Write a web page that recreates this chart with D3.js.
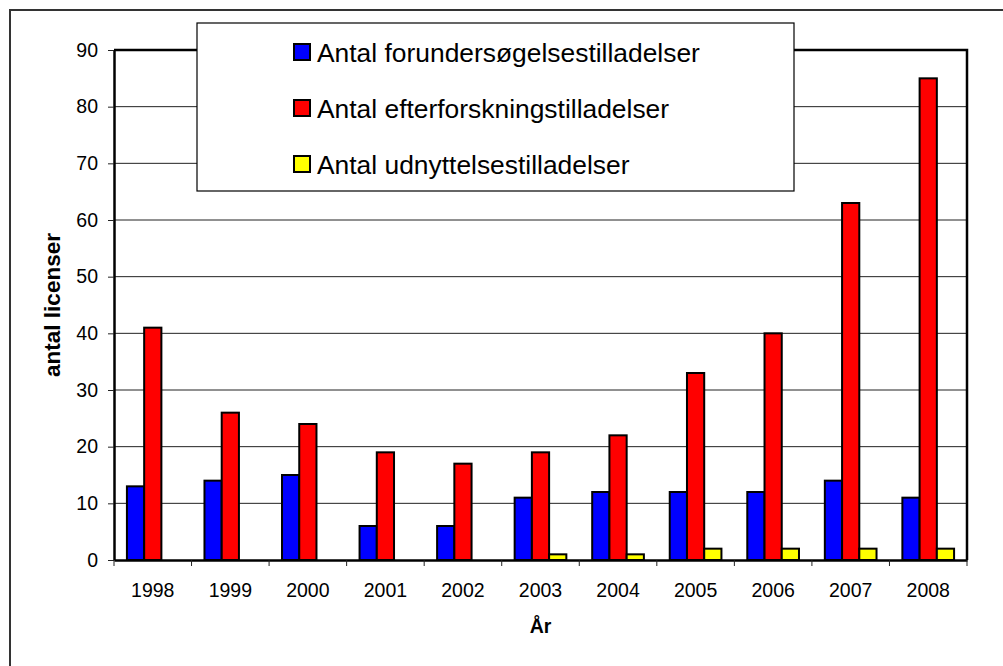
<!DOCTYPE html>
<html>
<head>
<meta charset="utf-8">
<script src="https://cdn.jsdelivr.net/npm/d3@7"></script>
<style>
  body { margin: 0; background: #fff; }
  svg { display: block; font-family: "Liberation Sans", Arial, sans-serif; }
</style>
</head>
<body>
<svg id="chart" width="1003" height="666"></svg>
<script>
// data
const years = ["1998","1999","2000","2001","2002","2003","2004","2005","2006","2007","2008"];
const forunders = [13, 14, 15, 6, 6, 11, 12, 12, 12, 14, 11];
const efterforsk = [41, 26, 24, 19, 17, 19, 22, 33, 40, 63, 85];
const udnyttelse = [0, 0, 0, 0, 0, 1, 1, 2, 2, 2, 2];
const seriesNames = ["Antal forundersøgelsestilladelser", "Antal efterforskningstilladelser", "Antal udnyttelsestilladelser"];
const seriesColors = ["#0000ff", "#ff0000", "#ffff00"];
const yTicks = [0, 10, 20, 30, 40, 50, 60, 70, 80, 90];

let chart = d3.select("#chart");
let plotLeft = 114, plotRight = 967, plotTop = 50, plotBottom = 560;

// outer frame (runs off the right / bottom of the picture)
chart.append("rect")
    .attr("x", 10).attr("y", 10)
    .attr("width", 1010).attr("height", 700)
    .attr("fill", "none")
    .attr("stroke", "#333")
    .attr("stroke-width", 2);

// scales
let x = d3.scaleBand()
    .domain(years)
    .range([plotLeft, plotRight])
    .padding(0);

let xInner = d3.scaleBand()
    .domain(d3.range(seriesNames.length))
    .range([x.bandwidth() / 6, x.bandwidth() * 5 / 6])
    .padding(0);

let y = d3.scaleLinear()
    .domain([0, 90])
    .range([plotBottom, plotTop]);

// grid lines
chart.append("g")
    .selectAll("line")
    .data(yTicks.filter(d => d > 0 && d < 90))
    .enter()
    .append("line")
    .attr("x1", plotLeft).attr("x2", plotRight)
    .attr("y1", d => y(d)).attr("y2", d => y(d))
    .attr("stroke", "#222")
    .attr("stroke-width", 1);

// plot top + right border
chart.append("path")
    .attr("d", "M" + plotLeft + "," + y(90) + "H" + plotRight + "V" + plotBottom)
    .attr("fill", "none")
    .attr("stroke", "#000")
    .attr("stroke-width", 2.5);

// bars
let seriesData = [forunders, efterforsk, udnyttelse];
seriesData.forEach(function (vals, s) {
    chart.append("g")
        .selectAll("rect")
        .data(vals)
        .enter()
        .append("rect")
        .attr("x", (d, i) => x(years[i]) + xInner(s))
        .attr("y", d => y(d))
        .attr("width", xInner.bandwidth())
        .attr("height", d => y(0) - y(d))
        .attr("fill", seriesColors[s])
        .attr("stroke", "#000")
        .attr("stroke-width", 2);
});

// y axis
let yAxis = d3.axisLeft(y)
    .tickValues(yTicks)
    .tickSizeInner(6)
    .tickSizeOuter(0)
    .tickPadding(10);
let yAxisGroup = chart.append("g")
    .attr("transform", "translate(" + plotLeft + ",0)")
    .call(yAxis);
yAxisGroup.select(".domain").attr("stroke", "#000").attr("stroke-width", 2.5);
yAxisGroup.selectAll(".tick line").attr("stroke", "#222");
yAxisGroup.selectAll("text")
    .attr("font-size", "19.5px")
    .attr("fill", "#000")
    .attr("font-family", "Liberation Sans, Arial, sans-serif");

// x axis
let xAxis = d3.axisBottom(x)
    .tickSize(0)
    .tickPadding(23);
let xAxisGroup = chart.append("g")
    .attr("transform", "translate(0," + plotBottom + ")")
    .call(xAxis);
xAxisGroup.select(".domain").attr("stroke", "#000").attr("stroke-width", 2.5);
xAxisGroup.selectAll("text")
    .attr("font-size", "19.5px")
    .attr("fill", "#000")
    .attr("font-family", "Liberation Sans, Arial, sans-serif");

// x tick marks on category boundaries
chart.append("g")
    .selectAll("line")
    .data(years.concat(["end"]))
    .enter()
    .append("line")
    .attr("x1", d => d === "end" ? plotRight : x(d))
    .attr("x2", d => d === "end" ? plotRight : x(d))
    .attr("y1", plotBottom)
    .attr("y2", plotBottom + 6)
    .attr("stroke", "#222")
    .attr("stroke-width", 1);

// axis titles
chart.append("text")
    .text("År")
    .attr("x", (plotLeft + plotRight) / 2)
    .attr("y", 633)
    .attr("text-anchor", "middle")
    .attr("font-weight", "bold")
    .attr("font-size", "19.5px");

chart.append("text")
    .text("antal licenser")
    .attr("transform", "translate(60," + ((plotTop + plotBottom) / 2) + ") rotate(-90)")
    .attr("text-anchor", "middle")
    .attr("font-weight", "bold")
    .attr("font-size", "22.5px");

// legend
let legend = chart.append("g");
legend.append("rect")
    .attr("x", 197).attr("y", 23)
    .attr("width", 597).attr("height", 168)
    .attr("fill", "#fff")
    .attr("stroke", "#000")
    .attr("stroke-width", 1.2);

let legendRows = [52, 108, 164];
seriesNames.forEach(function (name, i) {
    legend.append("rect")
        .attr("x", 294).attr("y", legendRows[i] - 8)
        .attr("width", 16).attr("height", 16)
        .attr("fill", seriesColors[i])
        .attr("stroke", "#000")
        .attr("stroke-width", 2);
    legend.append("text")
        .text(name)
        .attr("x", 317)
        .attr("y", legendRows[i])
        .attr("dy", "0.36em")
        .attr("font-size", "26.4px");
});
</script>
</body>
</html>
